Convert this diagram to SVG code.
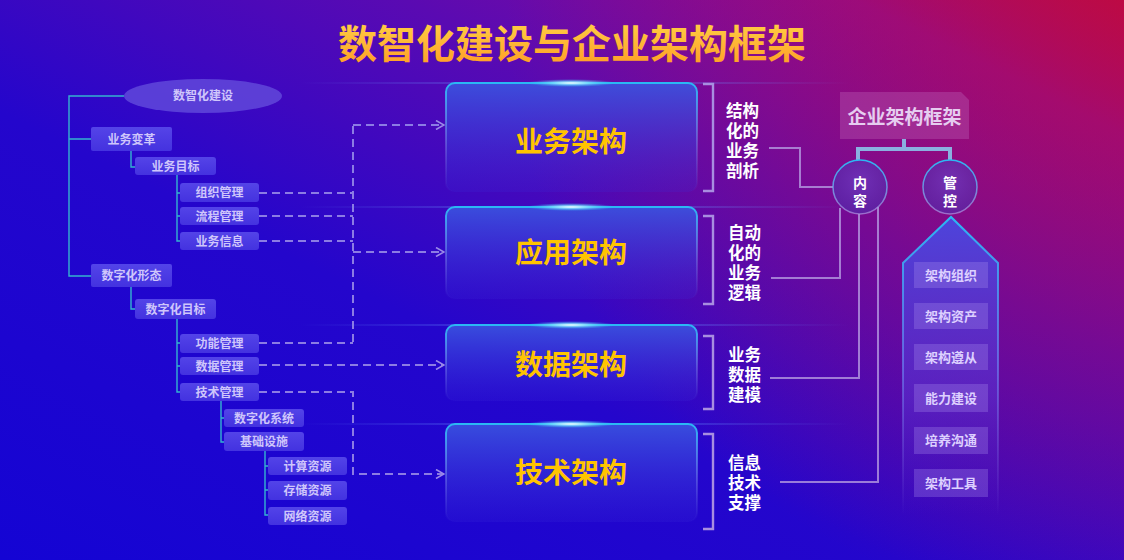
<svg xmlns="http://www.w3.org/2000/svg" width="1124" height="560" viewBox="0 0 1124 560">
<defs>
<linearGradient id="bg" x1="0" y1="1" x2="1" y2="0">
<stop offset="0" stop-color="#1404d4"/>
<stop offset="0.4" stop-color="#2406cc"/>
<stop offset="0.68" stop-color="#5a0ab2"/>
<stop offset="0.88" stop-color="#8a0c98"/>
<stop offset="1" stop-color="#b80a4a"/>
</linearGradient>
<radialGradient id="bgr" cx="1" cy="0" r="0.55" gradientTransform="scale(1 2)">
<stop offset="0" stop-color="#c00a40" stop-opacity="0.6"/>
<stop offset="1" stop-color="#c00a40" stop-opacity="0"/>
</radialGradient>
<linearGradient id="title" x1="0" y1="0" x2="0" y2="1">
<stop offset="0" stop-color="#ffd84a"/>
<stop offset="1" stop-color="#ff9a24"/>
</linearGradient>
<linearGradient id="boxFill" x1="0" y1="0" x2="0" y2="1">
<stop offset="0" stop-color="#3a55e0" stop-opacity="0.9"/>
<stop offset="1" stop-color="#3a2ad8" stop-opacity="0.2"/>
</linearGradient>
<linearGradient id="boxStroke" x1="0" y1="0" x2="0" y2="1">
<stop offset="0" stop-color="#2ab8f4"/>
<stop offset="0.6" stop-color="#8a9af0" stop-opacity="0.35"/>
<stop offset="1" stop-color="#8a9af0" stop-opacity="0"/>
</linearGradient>
<radialGradient id="glow">
<stop offset="0" stop-color="#ffffff"/>
<stop offset="0.4" stop-color="#7fe0ff" stop-opacity="0.8"/>
<stop offset="1" stop-color="#2ab8f4" stop-opacity="0"/>
</radialGradient>
<linearGradient id="hline" x1="0" y1="0" x2="1" y2="0">
<stop offset="0" stop-color="#6a9aff" stop-opacity="0"/>
<stop offset="0.5" stop-color="#6a9aff" stop-opacity="0.45"/>
<stop offset="1" stop-color="#6a9aff" stop-opacity="0"/>
</linearGradient>
<linearGradient id="tag" x1="0" y1="0" x2="0" y2="1">
<stop offset="0" stop-color="#5a4cec"/>
<stop offset="1" stop-color="#4838e2"/>
</linearGradient>
<linearGradient id="circStroke" x1="0" y1="0" x2="0" y2="1">
<stop offset="0" stop-color="#2ab8f4"/>
<stop offset="1" stop-color="#b090e0" stop-opacity="0.7"/>
</linearGradient>
<radialGradient id="circFill" cx="0.5" cy="0.4" r="0.6">
<stop offset="0" stop-color="#6a40c8" stop-opacity="0.7"/>
<stop offset="1" stop-color="#4a30b0" stop-opacity="0.55"/>
</radialGradient>
<linearGradient id="penFill" x1="0" y1="0" x2="0" y2="1">
<stop offset="0" stop-color="#4a48e0" stop-opacity="0.95"/>
<stop offset="0.6" stop-color="#5a30d0" stop-opacity="0.6"/>
<stop offset="1" stop-color="#4a20c8" stop-opacity="0"/>
</linearGradient>
<linearGradient id="penStroke" x1="0" y1="0" x2="0" y2="1">
<stop offset="0" stop-color="#2ab8f4"/>
<stop offset="0.5" stop-color="#6a80f0" stop-opacity="0.7"/>
<stop offset="1" stop-color="#8a70e0" stop-opacity="0"/>
</linearGradient>
<marker id="arr" viewBox="0 0 10 10" refX="9" refY="5" markerWidth="10" markerHeight="10" markerUnits="userSpaceOnUse" orient="auto">
<path d="M1,0.5 L9,5 L1,9.5" fill="none" stroke="#9a8ae8" stroke-width="1.6"/>
</marker>
<style>
.ft{font-family:"Noto Sans CJK SC","Noto Sans",sans-serif;font-weight:bold}
.tag{fill:url(#tag);opacity:0.88}
.tagt{fill:#cfc6fb;font-size:12px;text-anchor:middle}
.tree{fill:none;stroke:#35b4d0;stroke-width:1.4}
.dash{fill:none;stroke:#8c7ce4;stroke-width:2;stroke-dasharray:8 5}
.box{fill:url(#boxFill);stroke:url(#boxStroke);stroke-width:2}
.boxt{fill:#ffc400;font-size:28px;text-anchor:middle}
.brk{fill:none;stroke:#a88ee0;stroke-width:2.4}
.brt{fill:#ffffff;font-size:16.5px}
.con{fill:none;stroke:#b49ae0;stroke-width:2;stroke-opacity:0.8}
.circ{fill:url(#circFill);stroke:url(#circStroke);stroke-width:1.5}
.circt{fill:#ffffff;font-size:14px;text-anchor:middle}
.item{fill:#a890f0;fill-opacity:0.3}
.itemt{fill:#ddd0ff;font-size:13px;text-anchor:middle}
</style>
</defs>
<rect width="1124" height="560" fill="url(#bg)"/>
<rect width="1124" height="560" fill="url(#bgr)"/>

<text class="ft" x="572" y="58" font-size="39" text-anchor="middle" fill="url(#title)">数智化建设与企业架构框架</text>

<!-- tree -->
<g id="tree-lines">
<path class="tree" d="M124,96 H69 V276 H91 M69,139 H91"/>
<path class="tree" d="M131,151 V167 H135"/>
<path class="tree" d="M177,175 V241 H180 M177,193 H180 M177,216 H180"/>
<path class="tree" d="M131,287 V309 H135"/>
<path class="tree" d="M177,319 V392 H180 M177,343 H180 M177,366 H180"/>
<path class="tree" d="M221,401 V442 H224 M221,418 H224"/>
<path class="tree" d="M265,451 V515 H268 M265,466 H268 M265,490 H268"/>
</g>
<g id="n-root"><ellipse cx="203" cy="96" rx="79" ry="17" fill="#6a56e0" fill-opacity="0.7"/><text class="ft tagt" x="203" y="100">数智化建设</text></g>
<g id="n-ywbg"><rect class="tag" x="91" y="127" width="81" height="24" rx="2"/><text class="ft tagt" x="131.5" y="143.5">业务变革</text></g>
<g id="n-ywmb"><rect class="tag" x="135" y="157" width="81" height="18" rx="3"/><text class="ft tagt" x="175.5" y="170.5">业务目标</text></g>
<g id="n-zzgl"><rect class="tag" x="180" y="183" width="79" height="19" rx="3"/><text class="ft tagt" x="219.5" y="197">组织管理</text></g>
<g id="n-lcgl"><rect class="tag" x="180" y="207" width="79" height="18" rx="3"/><text class="ft tagt" x="219.5" y="220.5">流程管理</text></g>
<g id="n-ywxx"><rect class="tag" x="180" y="232" width="79" height="18" rx="3"/><text class="ft tagt" x="219.5" y="245.5">业务信息</text></g>
<g id="n-szhxt"><rect class="tag" x="91" y="264" width="81" height="23" rx="2"/><text class="ft tagt" x="131.5" y="280">数字化形态</text></g>
<g id="n-szhmb"><rect class="tag" x="135" y="299" width="81" height="20" rx="3"/><text class="ft tagt" x="175.5" y="313.5">数字化目标</text></g>
<g id="n-gngl"><rect class="tag" x="180" y="334" width="79" height="19" rx="3"/><text class="ft tagt" x="219.5" y="348">功能管理</text></g>
<g id="n-sjgl"><rect class="tag" x="180" y="357" width="79" height="18" rx="3"/><text class="ft tagt" x="219.5" y="370.5">数据管理</text></g>
<g id="n-jsgl"><rect class="tag" x="180" y="383" width="79" height="18" rx="3"/><text class="ft tagt" x="219.5" y="396.5">技术管理</text></g>
<g id="n-szhxt2"><rect class="tag" x="224" y="409" width="80" height="18" rx="3"/><text class="ft tagt" x="264" y="422.5">数字化系统</text></g>
<g id="n-jcss"><rect class="tag" x="224" y="432" width="80" height="19" rx="3"/><text class="ft tagt" x="264" y="446">基础设施</text></g>
<g id="n-jszy"><rect class="tag" x="268" y="457" width="79" height="18" rx="3"/><text class="ft tagt" x="307.5" y="470.5">计算资源</text></g>
<g id="n-cczy"><rect class="tag" x="268" y="481" width="79" height="19" rx="3"/><text class="ft tagt" x="307.5" y="495">存储资源</text></g>
<g id="n-wlzy"><rect class="tag" x="268" y="507" width="79" height="18" rx="3"/><text class="ft tagt" x="307.5" y="520.5">网络资源</text></g>

<!-- connectors -->
<g id="connectors">
<path class="dash" d="M259,193 H353 M259,216 H353 M259,241 H353 M259,343 H353"/>
<path class="dash" d="M353,342 V125"/>
<path class="dash" d="M353,125 H444" marker-end="url(#arr)"/>
<path class="dash" d="M353,252 H444" marker-end="url(#arr)"/>
<path class="dash" d="M259,365 H444" marker-end="url(#arr)"/>
<path class="dash" d="M259,392 H353 V474 H444" marker-end="url(#arr)"/>
<path class="con" d="M769,148 H800 V187 H833"/>
<path class="con" d="M771,278 H840 V208"/>
<path class="con" d="M770,378 H859 V214"/>
<path class="con" d="M780,482 H878 V207"/>
<path d="M904,139 V149 M858,160 V149 H950 V160" fill="none" stroke="#8ab0e0" stroke-width="4"/>
</g>

<!-- main boxes -->
<g id="b-yw">
<rect x="300" y="82" width="550" height="2" fill="url(#hline)"/>
<rect class="box" x="446" y="83" width="251" height="109" rx="9"/>
<ellipse cx="571" cy="83" rx="45" ry="4" fill="url(#glow)"/>
<text class="ft boxt" x="571" y="152">业务架构</text>
</g>
<g id="b-yy">
<rect x="300" y="206" width="550" height="2" fill="url(#hline)"/>
<rect class="box" x="446" y="207" width="251" height="92" rx="9"/>
<ellipse cx="571" cy="207" rx="45" ry="4" fill="url(#glow)"/>
<text class="ft boxt" x="571" y="263">应用架构</text>
</g>
<g id="b-sj">
<rect x="300" y="324" width="550" height="2" fill="url(#hline)"/>
<rect class="box" x="446" y="325" width="251" height="76" rx="9"/>
<ellipse cx="571" cy="325" rx="45" ry="4" fill="url(#glow)"/>
<text class="ft boxt" x="571" y="375">数据架构</text>
</g>
<g id="b-js">
<rect x="300" y="423" width="550" height="2" fill="url(#hline)"/>
<rect class="box" x="446" y="424" width="251" height="98" rx="9"/>
<ellipse cx="571" cy="424" rx="45" ry="4" fill="url(#glow)"/>
<text class="ft boxt" x="571" y="483">技术架构</text>
</g>

<!-- brackets -->
<g id="k-1"><path class="brk" d="M703,84 H713 V191 H703"/>
<text class="ft brt"><tspan x="726" y="117">结构</tspan><tspan x="726" y="137">化的</tspan><tspan x="726" y="157">业务</tspan><tspan x="726" y="177">剖析</tspan></text></g>
<g id="k-2"><path class="brk" d="M703,216 H713 V304 H703"/>
<text class="ft brt"><tspan x="728" y="239">自动</tspan><tspan x="728" y="259">化的</tspan><tspan x="728" y="279">业务</tspan><tspan x="728" y="299">逻辑</tspan></text></g>
<g id="k-3"><path class="brk" d="M703,336 H713 V409 H703"/>
<text class="ft brt"><tspan x="728" y="361">业务</tspan><tspan x="728" y="381">数据</tspan><tspan x="728" y="401">建模</tspan></text></g>
<g id="k-4"><path class="brk" d="M703,434 H713 V529 H703"/>
<text class="ft brt"><tspan x="728" y="469">信息</tspan><tspan x="728" y="489">技术</tspan><tspan x="728" y="509">支撑</tspan></text></g>

<!-- framework -->
<g id="n-frame">
<path d="M840,92 H961 L969,100 V139 H840 Z" fill="#b858b0" fill-opacity="0.42"/>
<text class="ft" x="904.5" y="124" font-size="19" text-anchor="middle" fill="#e6cdf0">企业架构框架</text>
</g>
<g id="n-nr"><circle class="circ" cx="860" cy="187" r="27"/><text class="ft circt"><tspan x="860" y="188">内</tspan><tspan x="860" y="206">容</tspan></text></g>
<g id="n-gk"><circle class="circ" cx="950" cy="187" r="27"/><text class="ft circt"><tspan x="950" y="188">管</tspan><tspan x="950" y="206">控</tspan></text></g>

<g id="n-pen">
<path d="M903,515 V263 L951,217 L998,263 V515" fill="url(#penFill)" stroke="url(#penStroke)" stroke-width="2"/>
<rect class="item" x="914" y="262" width="74" height="26"/><text class="ft itemt" x="951" y="279.5">架构组织</text>
<rect class="item" x="914" y="303" width="74" height="26"/><text class="ft itemt" x="951" y="320.5">架构资产</text>
<rect class="item" x="914" y="344" width="74" height="26"/><text class="ft itemt" x="951" y="361.5">架构遵从</text>
<rect class="item" x="914" y="384" width="74" height="28"/><text class="ft itemt" x="951" y="402.5">能力建设</text>
<rect class="item" x="914" y="427" width="74" height="27"/><text class="ft itemt" x="951" y="445">培养沟通</text>
<rect class="item" x="914" y="469" width="74" height="28"/><text class="ft itemt" x="951" y="487.5">架构工具</text>
</g>
</svg>
